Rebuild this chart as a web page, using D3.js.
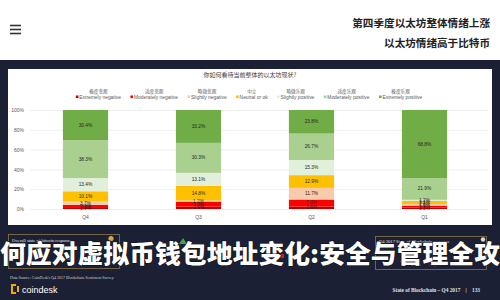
<!DOCTYPE html>
<html>
<head>
<meta charset="utf-8">
<script src="https://cdn.jsdelivr.net/npm/d3@7"></script>
<style>
body { margin: 0; background: #1c2035; }
svg { display: block; font-family: "Liberation Sans", "Noto Sans CJK SC", sans-serif; }
</style>
</head>
<body>
<div id="chart"></div>
<script>
// data (percent of respondents)
let quarters = ["Q4", "Q3", "Q2", "Q1"];
let yTicks = [0, 20, 40, 60, 80, 100];
let seriesKeys = ["extNeg", "modNeg", "slNeg", "neutral", "slPos", "modPos", "extPos"];
let seriesZh = ["极度悲观", "适度悲观", "略微悲观", "中立", "略微乐观", "适度乐观", "极度乐观"];
let seriesEn = ["Extremely negative", "Moderately negative", "Slightly negative", "Neutral or ok",
  "Slightly positive", "Moderately positive", "Extremely positive"];
let extNeg = [1.9, 2.4, 2.6, 1.5];
let modNeg = [2.2, 5.0, 7.0, 1.9];
let slNeg = [3.7, 1.2, 11.7, 1.6];
let neutral = [10.1, 14.8, 12.9, 3.1];
let slPos = [13.4, 13.1, 15.3, 1.2];
let modPos = [38.3, 30.3, 26.7, 21.9];
let extPos = [30.4, 33.2, 23.8, 68.8];

let colors = ["#c00000", "#ff0000", "#f8cbad", "#ffc000", "#e2efda", "#a9d08e", "#70ad47"];

let table = quarters.map((q, i) => ({
  quarter: q,
  extNeg: extNeg[i], modNeg: modNeg[i], slNeg: slNeg[i], neutral: neutral[i],
  slPos: slPos[i], modPos: modPos[i], extPos: extPos[i]
}));

let width = 500, height = 300;

let svg = d3.select("#chart").append("svg")
  .attr("width", width)
  .attr("height", height);

svg.append("rect").attr("width", width).attr("height", height).attr("fill", "#1c2035");

// white page header
svg.append("rect").attr("width", width).attr("height", 60).attr("fill", "#ffffff");
[25.5, 29.5, 33.5].forEach(y => {
  svg.append("rect").attr("x", 10).attr("y", y - 0.8).attr("width", 11).attr("height", 1.6).attr("fill", "#333");
});
svg.append("text")
  .attr("x", 490).attr("y", 27)
  .attr("text-anchor", "end")
  .style("font-family", "'Noto Sans CJK SC'")
  .style("font-weight", 700)
  .style("font-size", "10.6px")
  .attr("fill", "#222")
  .text("第四季度以太坊整体情绪上涨");
svg.append("text")
  .attr("x", 490).attr("y", 47)
  .attr("text-anchor", "end")
  .style("font-family", "'Noto Sans CJK SC'")
  .style("font-weight", 700)
  .style("font-size", "10.6px")
  .attr("fill", "#222")
  .text("以太坊情绪高于比特币");

// chart panel
svg.append("rect").attr("x", 8).attr("y", 69).attr("width", 484).attr("height", 156).attr("fill", "#ffffff");

svg.append("text")
  .attr("x", 250).attr("y", 77)
  .attr("text-anchor", "middle")
  .style("font-family", "'Noto Sans CJK SC'")
  .style("font-size", "6px")
  .attr("fill", "#404040")
  .text("你如何看待当前整体的以太坊现状?");

let x = d3.scaleBand()
  .domain(quarters)
  .range([29, 481])
  .paddingInner(0.6)
  .paddingOuter(0.3);

let y = d3.scaleLinear()
  .domain([0, 100])
  .range([209, 110]);

let yAxis = svg.append("g")
  .attr("transform", "translate(30,0)")
  .call(d3.axisLeft(y).tickValues(yTicks).tickFormat(d => d + "%").tickSize(-458).tickPadding(6));
yAxis.select(".domain").remove();
yAxis.selectAll("line").attr("stroke", "#e4e4e4").attr("stroke-width", 0.6);
yAxis.selectAll("text").attr("fill", "#595959").style("font-size", "5px");

let xAxis = svg.append("g")
  .attr("transform", "translate(0,209)")
  .call(d3.axisBottom(x).tickSize(0).tickPadding(6));
xAxis.select(".domain").remove();
xAxis.selectAll("text").attr("fill", "#595959").style("font-size", "5px");

let stacked = d3.stack().keys(seriesKeys)(table);

let layers = svg.append("g").selectAll("g")
  .data(stacked)
  .enter().append("g")
  .attr("fill", (d, i) => colors[i]);

layers.selectAll("rect")
  .data(d => d)
  .enter().append("rect")
  .attr("x", d => x(d.data.quarter))
  .attr("y", d => y(d[1]))
  .attr("width", x.bandwidth())
  .attr("height", d => y(d[0]) - y(d[1]));

let fmt = d3.format(".1f");
let labels = svg.append("g").selectAll("g")
  .data(stacked)
  .enter().append("g");

labels.selectAll("text")
  .data(d => d.map(v => ({ v: v, key: d.key })))
  .enter().append("text")
  .attr("x", d => x(d.v.data.quarter) + x.bandwidth() / 2)
  .attr("y", d => (y(d.v[0]) + y(d.v[1])) / 2)
  .attr("text-anchor", "middle")
  .attr("dominant-baseline", "central")
  .style("font-size", "4.8px")
  .attr("fill", "#262626")
  .text(d => fmt(d.v.data[d.key]) + "%");

// legend, laid out as a row
let legend = svg.append("g");
let items = legend.selectAll("g")
  .data(seriesKeys)
  .enter().append("g");

items.append("rect")
  .attr("y", 95.5).attr("width", 2.6).attr("height", 2.6)
  .attr("fill", (d, i) => colors[i]);
items.append("text")
  .attr("class", "en")
  .attr("x", 3.5).attr("y", 99.3)
  .style("font-size", "4.9px")
  .attr("fill", "#595959")
  .text((d, i) => seriesEn[i]);

let widths = [];
items.each(function () {
  widths.push(d3.select(this).select("text.en").node().getComputedTextLength() + 3.5);
});
let gap = 9.5;
let total = d3.sum(widths) + gap * (widths.length - 1);
let cursor = 249 - total / 2;
items.each(function (d, i) {
  d3.select(this).attr("transform", "translate(" + cursor + ",0)");
  d3.select(this).append("text")
    .attr("x", widths[i] / 2).attr("y", 93)
    .attr("text-anchor", "middle")
    .style("font-family", "'Noto Sans CJK SC'")
    .style("font-size", "4.6px")
    .attr("fill", "#595959")
    .text(seriesZh[i]);
  cursor += widths[i] + gap;
});

// lower slide area
let serif = "'Liberation Serif', 'DejaVu Serif', serif";
svg.append("rect").attr("x", 8.5).attr("y", 234.5).attr("width", 111).attr("height", 34)
  .attr("fill", "none").attr("stroke", "#8c7645").attr("stroke-width", 0.8);
svg.append("rect").attr("x", 375.5).attr("y", 236.5).attr("width", 111).attr("height", 33)
  .attr("fill", "none").attr("stroke", "#8c7645").attr("stroke-width", 0.8);
svg.append("text").attr("x", 12).attr("y", 241.5)
  .style("font-family", serif).style("font-size", "4.6px").attr("fill", "#e6e6e6")
  .text("Overall state of bitcoin response");
svg.append("text").attr("x", 379).attr("y", 243)
  .style("font-family", serif).style("font-size", "4.6px").attr("fill", "#e6e6e6")
  .text("Q4 2017 State of Blockchain response");
svg.append("circle").attr("cx", 111).attr("cy", 238.5).attr("r", 2.6).attr("fill", "#d8a446");
svg.append("circle").attr("cx", 483).attr("cy", 239.5).attr("r", 2.2).attr("fill", "#d9d9d9");
svg.append("path").attr("d", "M183,238 L187,244 L179,244 Z").attr("fill", "#3fa34d");
svg.append("path").attr("d", "M37,247 L41,253 L33,253 Z").attr("fill", "#3fa34d");
svg.append("path").attr("d", "M400,261 L405,261 L402.5,265 Z").attr("fill", "#d9232d");
svg.append("text").attr("x", 411).attr("y", 265.5)
  .style("font-family", serif).style("font-size", "4.6px").attr("fill", "#e6e6e6").text("8.6%");
svg.append("text").attr("x", 429).attr("y", 265.5)
  .style("font-family", serif).style("font-size", "4.6px").attr("fill", "#d9232d").text("negative");
svg.append("rect").attr("x", 268).attr("y", 254).attr("width", 16).attr("height", 4).attr("fill", "#c8202a");
svg.append("rect").attr("x", 60).attr("y", 257).attr("width", 12).attr("height", 3).attr("fill", "#c8202a");

// big overlaid caption
svg.append("text")
  .attr("x", 0).attr("y", 252)
  .attr("textLength", 500)
  .attr("lengthAdjust", "spacingAndGlyphs")
  .attr("dominant-baseline", "central")
  .style("font-family", "'Noto Sans CJK SC'")
  .style("font-weight", 900)
  .style("font-size", "25px")
  .attr("fill", "#ffffff")
  .attr("stroke", "#111")
  .attr("stroke-width", 1.2)
  .attr("paint-order", "stroke")
  .text("何应对虚拟币钱包地址变化:安全与管理全攻");

svg.append("text").attr("x", 10).attr("y", 279)
  .style("font-family", serif).style("font-size", "4px").attr("fill", "#cfcfcf")
  .text("Data Source: CoinDesk's Q4 2017 Blockchain Sentiment Survey");

// coindesk logo
svg.append("path")
  .attr("d", "M11,284 h5 v2 h-3 v6 h3 v2 h-5 Z M17,286 h2 v6 h-2 Z")
  .attr("fill", "#f2a900");
svg.append("text").attr("x", 22).attr("y", 292.5)
  .style("font-size", "9px").attr("fill", "#ffffff")
  .text("coindesk");

svg.append("text").attr("x", 480).attr("y", 291.5)
  .attr("text-anchor", "end")
  .style("font-family", serif).style("font-size", "5.3px").style("font-weight", 700).attr("fill", "#e0e0e0")
  .attr("xml:space", "preserve")
  .text("State of Blockchain – Q4 2017    |    133");
</script>
</body>
</html>
